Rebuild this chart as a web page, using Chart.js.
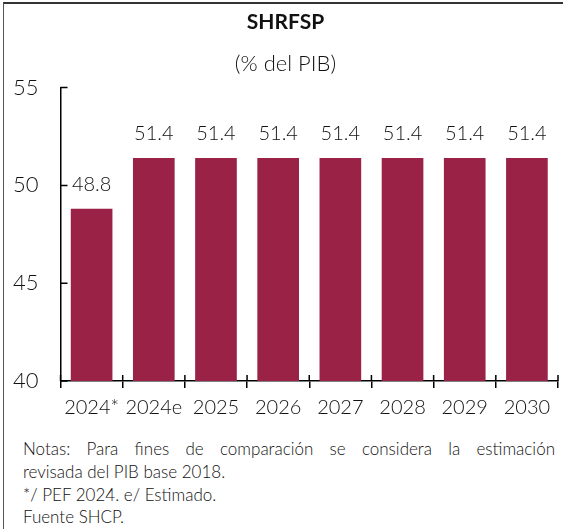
<!DOCTYPE html>
<html>
<head>
<meta charset="utf-8">
<script src="https://cdn.jsdelivr.net/npm/chart.js@4.4.1/dist/chart.umd.min.js"></script>
<style>
  html, body { margin: 0; padding: 0; background: #fff; }
  #frame {
    position: absolute; left: 3px; top: 2px; width: 560px; height: 527px;
    border-left: 1.5px solid #555; border-top: 2px solid #333;
  }
  #wrap { position: absolute; left: 0; top: 0; width: 563px; height: 432px; }
  #notes {
    position: absolute; left: 23px; top: 438px; width: 532px;
    font-family: 'Lato', sans-serif; font-weight: 300; font-size: 17px;
    line-height: 22.8px; color: #111;
  }
  #notes .just { text-align: justify; text-align-last: justify; }
</style>
</head>
<body>
<div id="frame"></div>
<div id="wrap"><canvas id="c"></canvas></div>
<div id="notes">
  <div class="just">Notas: Para fines de comparación se considera la estimación</div>
  <div>revisada del PIB base 2018.</div>
  <div>*/ PEF 2024. e/ Estimado.</div>
  <div>Fuente SHCP.</div>
</div>
<script>
const categories = ['2024*', '2024e', '2025', '2026', '2027', '2028', '2029', '2030'];
const shrfsp = [48.8, 51.4, 51.4, 51.4, 51.4, 51.4, 51.4, 51.4];
const yTicks = [40, 45, 50, 55];

const FONT = "'Lato', sans-serif";
const BAR_COLOR = '#9B2247';

// Inward y ticks, crossing x ticks and value labels above each bar
const decorations = {
  id: 'decorations',
  afterDraw(chart) {
    const ctx = chart.ctx;
    const area = chart.chartArea;
    const y = chart.scales.y;
    const x = chart.scales.x;
    const step = x.getPixelForValue(1) - x.getPixelForValue(0);
    ctx.save();
    ctx.strokeStyle = '#000';
    ctx.lineWidth = 1.5;
    ctx.beginPath();
    yTicks.forEach(v => {
      const py = y.getPixelForValue(v);
      ctx.moveTo(area.left, py);
      ctx.lineTo(area.left + 7, py);
    });
    for (let i = 0; i <= categories.length; i++) {
      const px = x.getPixelForValue(0) - step / 2 + i * step;
      ctx.moveTo(px, area.bottom);
      ctx.lineTo(px, area.bottom - 6);
    }
    ctx.stroke();

    ctx.fillStyle = '#111';
    ctx.font = '300 20px ' + FONT;
    ctx.textAlign = 'center';
    ctx.textBaseline = 'bottom';
    const meta = chart.getDatasetMeta(0);
    meta.data.forEach((bar, i) => {
      ctx.fillText(shrfsp[i].toFixed(1), bar.x, bar.y - 14);
    });
    ctx.restore();
  }
};

new Chart(document.getElementById('c'), {
  type: 'bar',
  data: {
    labels: categories,
    datasets: [{
      data: shrfsp,
      backgroundColor: BAR_COLOR,
      borderWidth: 0,
      barPercentage: 0.67,
      categoryPercentage: 1.0
    }]
  },
  options: {
    responsive: true,
    maintainAspectRatio: false,
    animation: false,
    layout: { padding: { left: 13, right: 5, top: 6, bottom: 4 } },
    plugins: {
      legend: { display: false },
      tooltip: { enabled: false },
      title: {
        display: true,
        text: 'SHRFSP',
        color: '#111',
        font: { family: FONT, size: 21, weight: 'bold' },
        padding: { top: 4, bottom: 8 }
      },
      subtitle: {
        display: true,
        text: '(% del PIB)',
        color: '#111',
        font: { family: FONT, size: 22, weight: '300' },
        padding: { top: 8, bottom: 10 }
      }
    },
    scales: {
      x: {
        grid: { display: true, drawOnChartArea: false, drawTicks: true, tickLength: 7, color: '#000', lineWidth: 1.5 },
        border: { display: true, color: '#000', width: 1.5 },
        ticks: { color: '#111', font: { family: FONT, size: 20, weight: '300' }, padding: 8, maxRotation: 0, autoSkip: false }
      },
      y: {
        min: 40,
        max: 55,
        afterBuildTicks(scale) { scale.ticks = yTicks.map(v => ({ value: v })); },
        grid: { display: false, drawTicks: false },
        border: { display: true, color: '#000', width: 1.5 },
        ticks: { color: '#111', font: { family: FONT, size: 22, weight: '300' }, padding: 11, crossAlign: 'far' }
      }
    }
  },
  plugins: [decorations]
});
</script>
</body>
</html>
